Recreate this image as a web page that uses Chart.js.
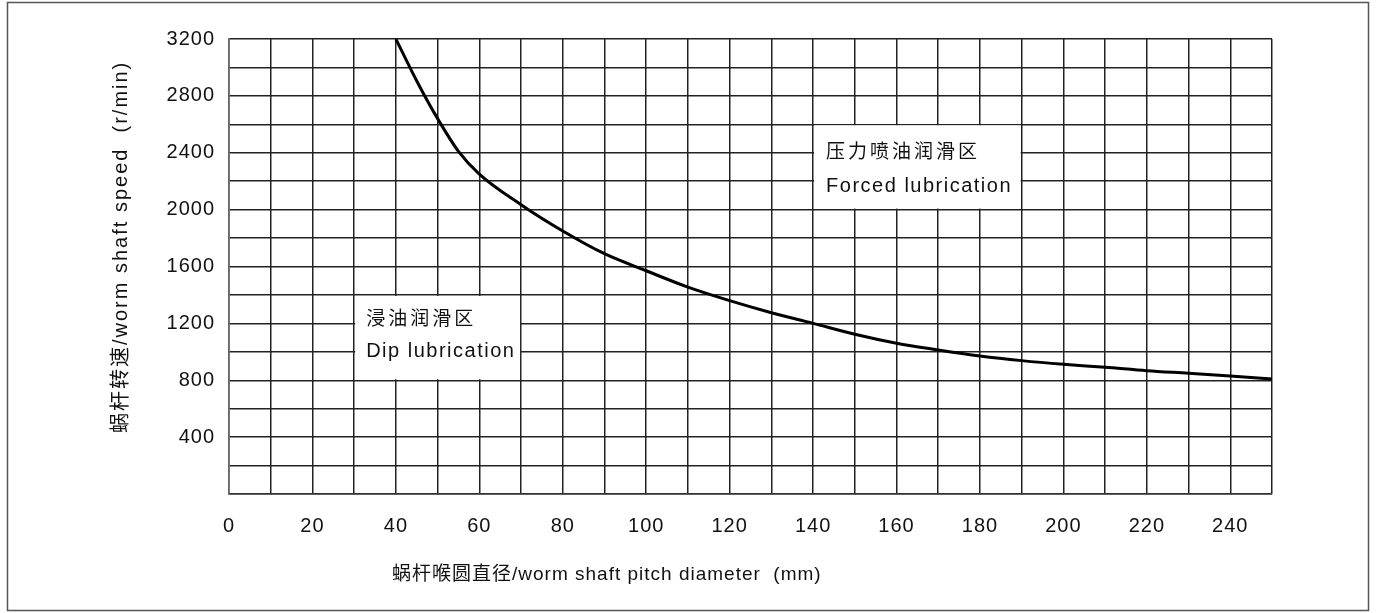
<!DOCTYPE html>
<html lang="zh">

<head>
    <meta charset="UTF-8">
    <title>蜗杆转速</title>
    <script src="https://cdn.jsdelivr.net/npm/chart.js"></script>
    <style>
        body { margin: 0; background: #fff; }
    </style>
</head>

<body>
    <canvas id="myChart" width="1376" height="613"></canvas>
    <script>
        // 蜗杆喉圆直径 (mm)
        const diameters = [40, 45, 50, 55, 60, 70, 80, 90, 100, 110, 120, 130, 140, 150, 160, 170, 180, 190, 200, 210, 220, 230, 240, 250];
        // 蜗杆转速 (r/min)
        const speeds = [3200, 2905, 2640, 2410, 2250, 2035, 1850, 1690, 1570, 1455, 1360, 1275, 1200, 1123, 1060, 1013, 971, 938, 912, 891, 867, 849, 830, 809];

        const xTickLabels = [0, 20, 40, 60, 80, 100, 120, 140, 160, 180, 200, 220, 240];
        const yTickLabels = [400, 800, 1200, 1600, 2000, 2400, 2800, 3200];

        const xTitle = '蜗杆喉圆直径/worm shaft pitch diameter  (mm)';
        const yTitle = '蜗杆转速/worm shaft speed  (r/min)';

        const zoneZh = ['浸油润滑区', '压力喷油润滑区'];
        const zoneEn = ['Dip lubrication', 'Forced lubrication'];

        const FONT = '"Liberation Sans", Arial, "Noto Sans CJK SC", sans-serif';

        // 区域标注的白底方框 + 外框 + 轴标题
        const decor = {
            id: 'decor',
            beforeDraw(chart) {
                chart.ctx.letterSpacing = '1px';
            },
            beforeDatasetsDraw(chart) {
                const ctx = chart.ctx;
                const xs = chart.scales.x, ys = chart.scales.y;
                const boxes = [
                    { x1: 30, x2: 70, y1: 1400, y2: 800, dx: 12, dz: 25, de: 57 },
                    { x1: 140, x2: 190, y1: 2600, y2: 2000, dx: 13, dz: 28, de: 62 }
                ];
                ctx.save();
                boxes.forEach((b, i) => {
                    const l = xs.getPixelForValue(b.x1), r = xs.getPixelForValue(b.x2);
                    const t = ys.getPixelForValue(b.y1), btm = ys.getPixelForValue(b.y2);
                    ctx.fillStyle = '#fff';
                    ctx.fillRect(l + 1, t + 1, r - l - 2, btm - t - 2);
                    ctx.fillStyle = '#111';
                    ctx.textAlign = 'left';
                    ctx.textBaseline = 'middle';
                    ctx.letterSpacing = '3px';
                    ctx.font = '19px ' + FONT;
                    ctx.fillText(zoneZh[i], l + b.dx, t + b.dz);
                    ctx.letterSpacing = '1.5px';
                    ctx.font = '20px ' + FONT;
                    ctx.fillText(zoneEn[i], l + b.dx, t + b.de);
                });
                ctx.restore();
            },
            afterDraw(chart) {
                const ctx = chart.ctx;
                ctx.save();
                ctx.fillStyle = '#111';
                ctx.font = '19px ' + FONT;
                ctx.letterSpacing = '1px';
                ctx.textBaseline = 'middle';
                ctx.textAlign = 'left';
                ctx.fillText(xTitle, 392, 575);
                ctx.font = '20px ' + FONT;
                ctx.letterSpacing = '2px';
                ctx.translate(121, 433);
                ctx.rotate(-Math.PI / 2);
                ctx.fillText(yTitle, 0, 0);
                ctx.restore();

                ctx.save();
                ctx.strokeStyle = '#555';
                ctx.lineWidth = 1.5;
                ctx.strokeRect(7.5, 2.5, 1361, 608);
                ctx.restore();
                ctx.letterSpacing = '0px';
            }
        };

        const ctx = document.querySelector('#myChart');
        const myChart = new Chart(ctx, {
            type: 'line',
            data: {
                datasets: [{
                    data: diameters.map((d, i) => ({ x: d, y: speeds[i] })),
                    borderColor: '#000',
                    borderWidth: 3,
                    pointRadius: 0,
                    cubicInterpolationMode: 'monotone',
                    fill: false
                }]
            },
            options: {
                responsive: false,
                devicePixelRatio: 1,
                animation: false,
                layout: { padding: { left: 0, top: 39, right: 104, bottom: 0 } },
                plugins: {
                    legend: { display: false },
                    tooltip: { enabled: false }
                },
                scales: {
                    x: {
                        type: 'linear',
                        min: 0,
                        max: 250,
                        border: { display: true, color: '#333', width: 1.5 },
                        grid: { color: '#222', lineWidth: 1.5, drawTicks: false },
                        ticks: {
                            stepSize: 10,
                            maxTicksLimit: 100,
                            autoSkip: false,
                            maxRotation: 0,
                            padding: 20,
                            color: '#111',
                            font: { size: 20, family: FONT },
                            callback: v => xTickLabels.includes(v) ? String(v) : ''
                        },
                        afterFit: s => { s.height = 119; }
                    },
                    y: {
                        min: 0,
                        max: 3200,
                        border: { display: true, color: '#666', width: 1.5 },
                        grid: { color: '#222', lineWidth: 1.5, drawTicks: false },
                        ticks: {
                            stepSize: 200,
                            maxTicksLimit: 100,
                            autoSkip: false,
                            padding: 14,
                            color: '#111',
                            font: { size: 20, family: FONT },
                            callback: v => yTickLabels.includes(v) ? String(v) : ''
                        },
                        afterFit: s => { s.width = 229; }
                    }
                }
            },
            plugins: [decor]
        });
    </script>
</body>

</html>
